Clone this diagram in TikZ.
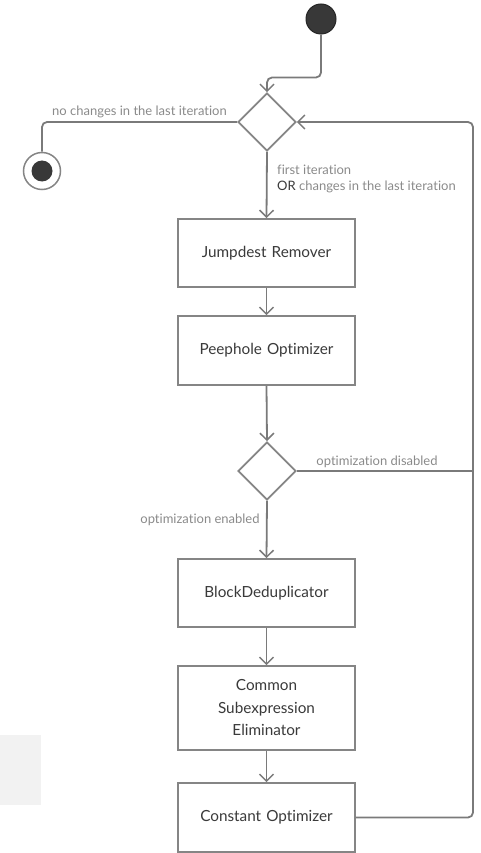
\documentclass[tikz,border=0pt]{standalone}
\usepackage{fontspec}
\setmainfont{Lato}[Ligatures=NoCommon]
\usetikzlibrary{shapes.geometric,arrows.meta}
\definecolor{linec}{HTML}{7A7A7A}
\definecolor{boxc}{HTML}{858585}
\definecolor{txtc}{HTML}{3A3A3A}
\definecolor{lblc}{HTML}{8A8A8A}
\begin{document}
\begin{tikzpicture}[x=1pt,y=-1pt,
  flow/.style={draw=linec,line width=1.8pt,rounded corners=5pt},
  arr/.style={-{Straight Barb[length=7pt,width=14pt,line width=1.5pt]}},
  stepbox/.style={draw=boxc,line width=1.7pt,fill=white,minimum width=177pt,inner sep=0pt,
    font=\fontsize{15.3}{22.5}\selectfont,text=txtc,align=center,text width=172pt},
  choice/.style={diamond,draw=boxc,line width=1.7pt,fill=white,minimum width=58pt,minimum height=58pt,inner sep=0pt},
  lbl/.style={font=\fontsize{13}{15}\selectfont,text=lblc,inner sep=0pt}]
\useasboundingbox (0,0) rectangle (481,853);
\fill[fill=black!5] (0,735) rectangle (41,805);
% nodes
\node[circle,fill=black!78,draw=black!85,line width=1pt,minimum size=30pt,inner sep=0pt] (start) at (321,19) {};
\node[choice] (d1) at (267,122) {};
\node[circle,draw=boxc,line width=1.5pt,fill=white,minimum size=37pt,inner sep=0pt] (final) at (42,171) {};
\node[circle,fill=black!78,minimum size=21pt,inner sep=0pt] (finalin) at (final.center) {};
\node[stepbox,minimum height=68pt] (jr) at (266.5,253) {Jumpdest Remover};
\node[stepbox,minimum height=69pt] (po) at (266.5,350.5) {Peephole Optimizer};
\node[choice] (d2) at (267,471) {};
\node[stepbox,minimum height=68pt] (bd) at (266.5,593) {BlockDeduplicator};
\node[stepbox,minimum height=84pt] (cse) at (266.5,708) {Common\\Subexpression\\Eliminator};
\node[stepbox,minimum height=69pt] (co) at (266.5,817.5) {Constant Optimizer};
\coordinate (rx) at (473,0);
% labels
\node[lbl] (l1) at (139.5,112) {no changes in the last iteration};
\node[lbl,anchor=west] (l2) at (277,170) {first iteration};
\node[lbl,anchor=west] (l3) at (277,187) {\textcolor{txtc}{OR} changes in the last iteration};
\node[lbl] (l4) at (377,462) {optimization disabled};
\node[lbl] (l5) at (200,520) {optimization enabled};
% connectors
\draw[flow,arr] (start.south) -- ++(0,43) -| (d1.north);
\draw[flow] (d1.west) -| (final.north);
\draw[flow,arr] (d1.south) -- (jr.north);
\draw[flow,arr] (jr.south) -- (po.north);
\draw[flow,arr] (po.south) -- (d2.north);
\draw[flow,arr] (d2.south) -- (bd.north);
\draw[flow,arr] (bd.south) -- (cse.north);
\draw[flow,arr] (cse.south) -- (co.north);
\draw[flow] (d2.east) -- (d2.east -| rx);
\draw[flow,arr] (co.east) -- (co.east -| rx) -- (rx |- d1.east) -- (d1.east);
\end{tikzpicture}
\end{document}
